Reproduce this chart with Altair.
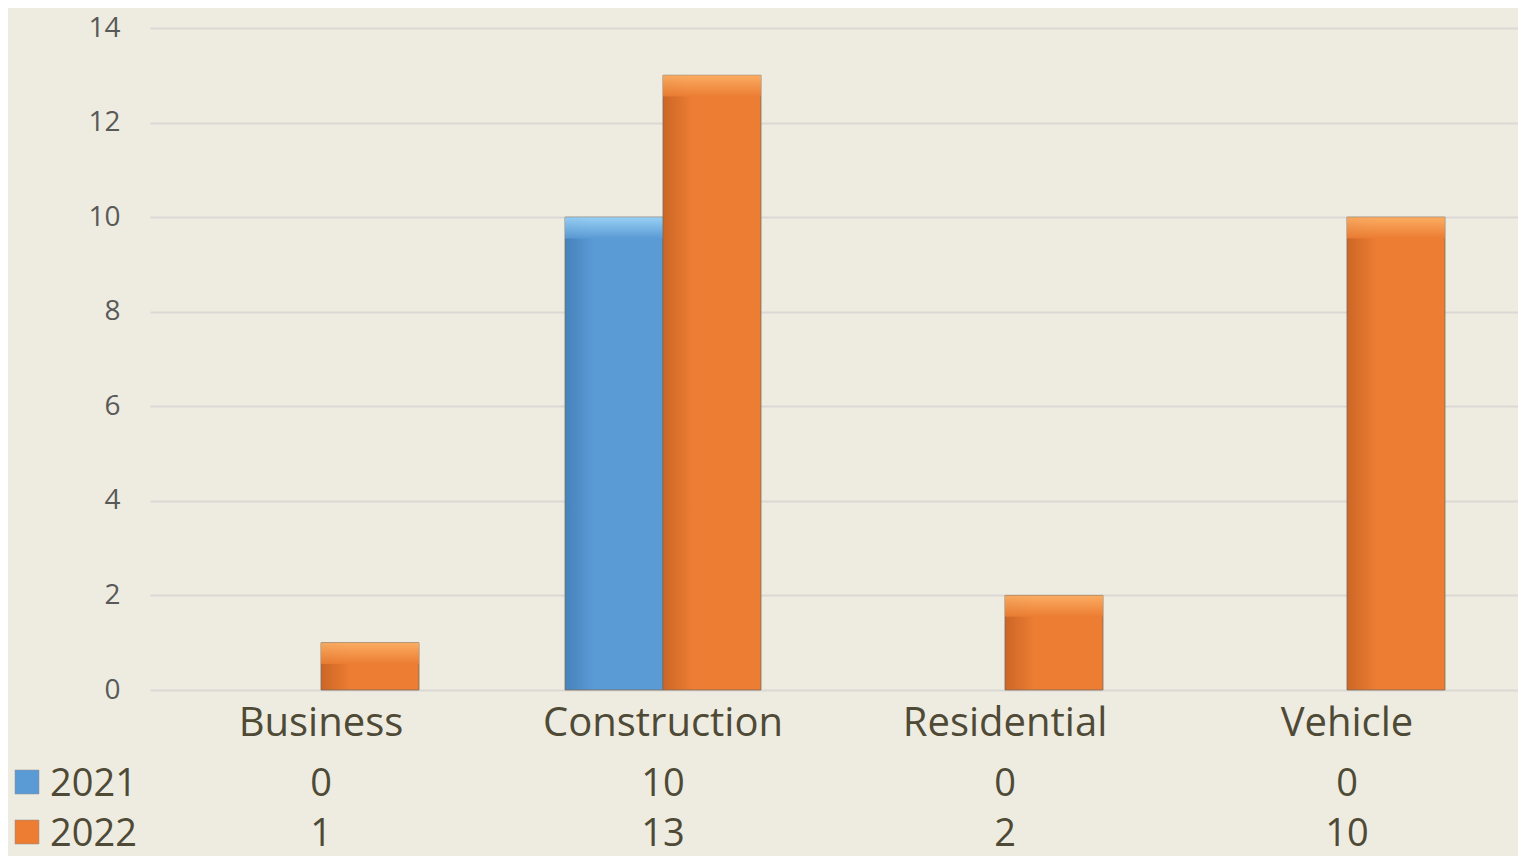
import altair as alt
import pandas as pd

categories = ["Business", "Construction", "Residential", "Vehicle"]
series_names = ["2021", "2022"]
values_2021 = [0, 10, 0, 0]
values_2022 = [1, 13, 2, 10]
y_ticks = [0, 2, 4, 6, 8, 10, 12, 14]

rows = []
for s, vals in zip(series_names, [values_2021, values_2022]):
    for c, v in zip(categories, vals):
        rows.append({"category": c, "series": s, "value": v})
df = pd.DataFrame(rows)
cat_df = pd.DataFrame({"category": categories})
ser_df = pd.DataFrame({"series": series_names})

FONT = "Open Sans"
TEXT_COLOR = "#4F4A36"
W, H = 1368, 662
TOP = 20

x_scale = alt.Scale(domain=categories, paddingInner=0.427, paddingOuter=0.2135)
xoff_scale = alt.Scale(domain=series_names)
y_scale = alt.Scale(domain=[0, 14], nice=False)

palette = {
    "2021": {"dark": "#4682BC", "base": "#5B9BD5", "light": "#A2D9FA"},
    "2022": {"dark": "#CC6626", "base": "#EC7D33", "light": "#FDB56A"},
}


def hgrad(p):
    return alt.Gradient(
        gradient="linear",
        stops=[
            alt.GradientStop(color=p["dark"], offset=0),
            alt.GradientStop(color=p["base"], offset=0.3),
            alt.GradientStop(color=p["base"], offset=1),
        ],
        x1=0, x2=1, y1=0, y2=0,
    )


def vgrad(p):
    return alt.Gradient(
        gradient="linear",
        stops=[
            alt.GradientStop(color=p["light"], offset=0),
            alt.GradientStop(color=p["base"], offset=1),
        ],
        x1=0, x2=0, y1=0, y2=1,
    )


def row_scale(rng):
    return alt.Scale(type="point", domain=series_names, range=rng, padding=0)


base = alt.Chart(df)
layers = []
first = True
for s in series_names:
    p = palette[s]
    yaxis = alt.Axis(
        values=y_ticks, grid=True, gridColor="#D9D8D4", gridWidth=2,
        domain=False, ticks=False, labelFontSize=28, labelColor="#595959",
        labelFont=FONT, labelPadding=30, title=None,
    ) if first else None
    first = False
    bar = base.transform_filter(
        f"datum.series == '{s}' && datum.value > 0"
    ).mark_bar(
        color=hgrad(p), stroke="#7C6A58", strokeWidth=1, strokeOpacity=0.8
    ).encode(
        x=alt.X("category:N", scale=x_scale, axis=None),
        xOffset=alt.XOffset("series:N", scale=xoff_scale),
        y=alt.Y("value:Q", scale=y_scale, axis=yaxis),
    )
    bevel = base.transform_filter(
        f"datum.series == '{s}' && datum.value > 0"
    ).transform_calculate(
        top2="max(datum.value - 0.45, 0)"
    ).mark_bar(color=vgrad(p), opacity=0.85).encode(
        x=alt.X("category:N", scale=x_scale, axis=None),
        xOffset=alt.XOffset("series:N", scale=xoff_scale),
        y=alt.Y("value:Q", scale=y_scale, axis=None),
        y2="top2:Q",
    )
    layers += [bar, bevel]

cat_labels = alt.Chart(cat_df).mark_text(
    font=FONT, fontSize=40, color=TEXT_COLOR, baseline="alphabetic"
).encode(
    x=alt.X("category:N", scale=x_scale, axis=None),
    y=alt.value(708),
    text="category:N",
)

table_vals = alt.Chart(df).mark_text(
    font=FONT, fontSize=38, color=TEXT_COLOR, baseline="alphabetic"
).encode(
    x=alt.X("category:N", scale=x_scale, axis=None),
    y=alt.Y("series:N", scale=row_scale([768, 818]), axis=None),
    text="value:Q",
)

swatches = alt.Chart(ser_df).mark_square(size=576, opacity=1, stroke="#8C8C8C", strokeWidth=0.5).encode(
    x=alt.value(-123),
    y=alt.Y("series:N", scale=row_scale([754, 804]), axis=None),
    color=alt.Color("series:N", scale=alt.Scale(domain=series_names,
                                                range=[palette["2021"]["base"], palette["2022"]["base"]]),
                    legend=None),
)

legend_labels = alt.Chart(ser_df).mark_text(
    font=FONT, fontSize=38, color=TEXT_COLOR, baseline="alphabetic", align="left"
).encode(
    x=alt.value(-100),
    y=alt.Y("series:N", scale=row_scale([768, 818]), axis=None),
    text="series:N",
)

chart = alt.layer(
    *layers, cat_labels, table_vals, swatches, legend_labels
).resolve_scale(
    y="independent", color="independent"
).properties(
    width=W, height=H, autosize="none",
    padding={"left": 142, "top": TOP, "right": 0, "bottom": 166},
    background="#EEECE1",
).configure_view(stroke=None)

chart.save("out.html", embed_options={"renderer": "svg", "actions": False})
